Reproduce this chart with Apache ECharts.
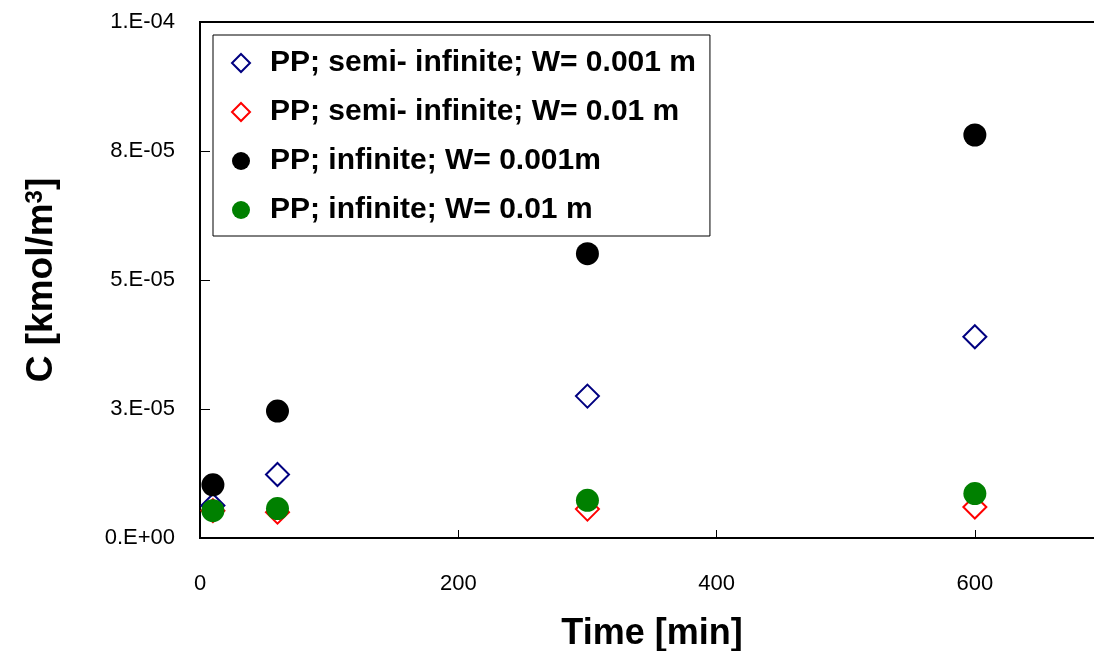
<!DOCTYPE html>
<html>
<head>
<meta charset="utf-8">
<script src="https://cdn.jsdelivr.net/npm/echarts@6/dist/echarts.min.js"></script>
<style>
html,body{margin:0;padding:0;background:#fff;}
#chart{width:1094px;height:651px;}
</style>
</head>
<body>
<div id="chart"></div>
<script>
// ---- data ----
var times = [10, 60, 300, 600];
var seriesNames = [
  'PP; semi- infinite; W= 0.001 m',
  'PP; semi- infinite; W= 0.01 m',
  'PP; infinite; W= 0.001m',
  'PP; infinite; W= 0.01 m'
];
var semiInf001 = [6.3e-6, 12.3e-6, 27.5e-6, 39.0e-6];
var semiInf01  = [5.3e-6, 5.0e-6, 5.6e-6, 6.0e-6];
var inf001     = [10.3e-6, 24.6e-6, 55.1e-6, 78.1e-6];
var inf01      = [5.3e-6, 5.7e-6, 7.3e-6, 8.6e-6];
var yTickLabels = ['0.E+00', '3.E-05', '5.E-05', '8.E-05', '1.E-04'];
var yInterval = 2.5e-5;

function pairs(xs, ys){ return xs.map(function(x,i){ return [x, ys[i]]; }); }

var FONT = '"Liberation Sans", Arial, sans-serif';
var chart = echarts.init(document.getElementById('chart'), null, {renderer:'canvas'});

function hollowDiamond(name, data, color){
  return {
    name: name, type: 'scatter', data: data,
    symbol: 'diamond', symbolSize: 23,
    itemStyle: {color: '#fff', borderColor: color, borderWidth: 2, opacity: 1}
  };
}
function filledCircle(name, data, color){
  return {
    name: name, type: 'scatter', data: data,
    symbol: 'circle', symbolSize: 23,
    itemStyle: {color: color, opacity: 1}
  };
}

chart.setOption({
  animation: false,
  backgroundColor: '#fff',
  grid: {left: 200, top: 22, right: -10, bottom: 113, containLabel: false, outerBoundsMode: 'none',
         show: true, borderColor: '#000', borderWidth: 2},
  legend: {
    orient: 'vertical', left: 213, top: 35,
    backgroundColor: '#fff', borderColor: '#000', borderWidth: 1,
    padding: [13, 14, 11, 18],
    itemWidth: 18, itemHeight: 18, itemGap: 19,
    textStyle: {fontFamily: FONT, fontSize: 30, fontWeight: 'bold', color: '#000', lineHeight: 29, padding: [0, 0, 0, 15]},
    data: seriesNames
  },
  xAxis: {
    type: 'value', min: 0, max: 700, interval: 200,
    name: 'Time [min]', nameLocation: 'middle', nameGap: 78,
    nameTextStyle: {fontFamily: FONT, fontSize: 36, fontWeight: 'bold', color: '#000'},
    axisLine: {show: true, lineStyle: {color: '#000', width: 2}},
    axisTick: {show: true, inside: true, length: 8, lineStyle: {color: '#000', width: 1}},
    axisLabel: {fontFamily: FONT, fontSize: 22, color: '#000', margin: 35, showMaxLabel: false},
    splitLine: {show: false}
  },
  yAxis: {
    type: 'value', min: 0, max: 1e-4, interval: yInterval,
    name: 'C [kmol/m{sup|3}]', nameLocation: 'middle', nameGap: 140, nameRotate: 90,
    nameTextStyle: {
      fontFamily: FONT, fontSize: 37, fontWeight: 'bold', color: '#000',
      rich: {sup: {fontFamily: FONT, fontSize: 24, fontWeight: 'bold', color: '#000', verticalAlign: 'top', lineHeight: 24}}
    },
    axisLine: {show: true, lineStyle: {color: '#000', width: 2}},
    axisTick: {show: true, inside: true, length: 10, lineStyle: {color: '#000', width: 1}},
    axisLabel: {
      fontFamily: FONT, fontSize: 22, color: '#000', margin: 25,
      formatter: function(v){ return yTickLabels[Math.round(v / yInterval)] || ''; }
    },
    splitLine: {show: false}
  },
  series: [
    hollowDiamond(seriesNames[0], pairs(times, semiInf001), '#000080'),
    hollowDiamond(seriesNames[1], pairs(times, semiInf01), '#ff0000'),
    filledCircle(seriesNames[2], pairs(times, inf001), '#000000'),
    filledCircle(seriesNames[3], pairs(times, inf01), '#008000')
  ]
});
</script>
</body>
</html>
